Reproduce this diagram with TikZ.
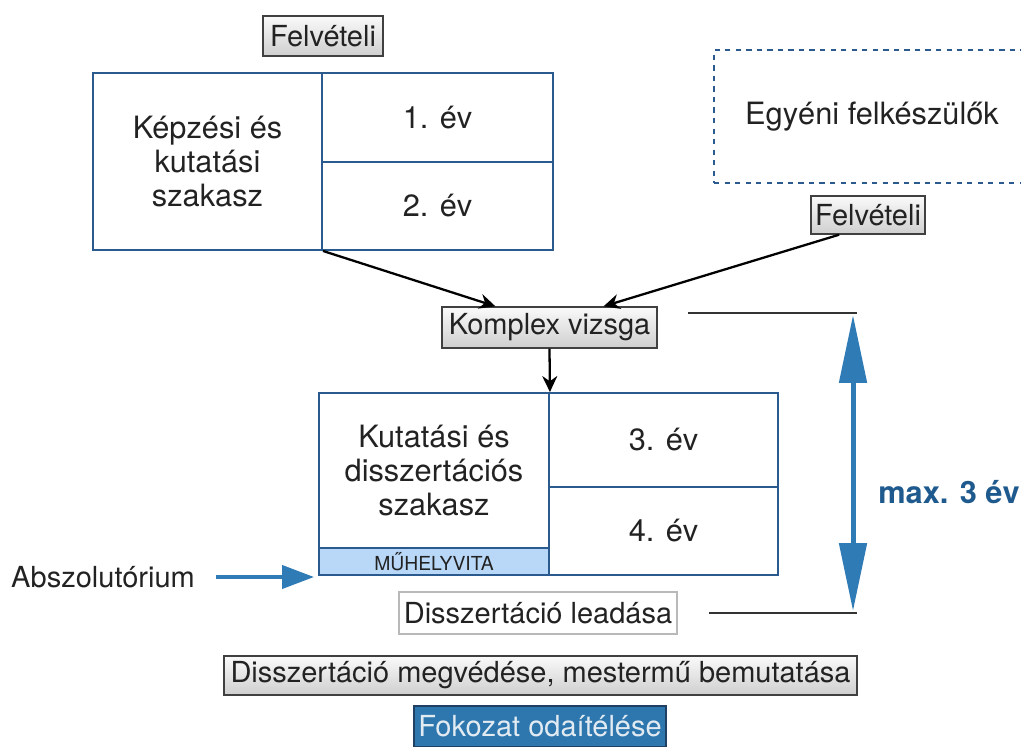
\documentclass[tikz,border=0pt]{standalone}
\usepackage{fontspec}
\setmainfont{TeX Gyre Heros}
\usetikzlibrary{arrows.meta,shadows,calc}
\definecolor{boxblue}{HTML}{2B5B8E}
\definecolor{arrowblue}{HTML}{2F7BB5}
\definecolor{maxblue}{HTML}{1F5A8E}
\definecolor{muhelyfill}{HTML}{B9D8F8}
\definecolor{fokozatfill}{HTML}{2D77AE}
\definecolor{fokozattext}{HTML}{E2EAF2}
\definecolor{textgray}{HTML}{222222}
\tikzset{
  cell/.style={draw=boxblue, line width=1.1pt, rectangle, inner sep=0pt, align=center, text=textgray, font=\fontsize{17.5}{19.5}\selectfont},
  button/.style={draw=gray!50!black, line width=0.8pt, rectangle, inner sep=0pt, text=textgray, top color=gray!4, bottom color=gray!38, drop shadow={opacity=0.3, shadow xshift=0.8pt, shadow yshift=-0.8pt}, font=\fontsize{16.5}{18}\selectfont},
  plainbox/.style={draw=gray!55, line width=1pt, rectangle, inner sep=0pt, fill=white, text=textgray, font=\fontsize{16.5}{18}\selectfont},
  blackarrow/.style={-{Stealth[length=0.32cm, width=0.3cm]}, line width=1.3pt, black},
  bluearrow/.style={-{Triangle[length=0.64cm, width=0.46cm]}, line width=0.08cm, arrowblue},
  spanarrow/.style={{Triangle[length=1.36cm, width=0.54cm]}-{Triangle[length=1.36cm, width=0.54cm]}, line width=0.1cm, arrowblue},
  guideline/.style={line width=0.6pt, black!80}
}

\begin{document}
\begin{tikzpicture}[x=0.02cm, y=-0.02cm]%
\useasboundingbox (0,0) rectangle (1021,747);%
\node[button, minimum width=2.4cm, minimum height=0.8cm] (felv1) at (323, 36) {Felvételi};%
\node[cell, minimum width=4.58cm, minimum height=3.54cm] (kepzes) at (207.5, 161.5) {Képzési és\\kutatási\\szakasz};%
\node[cell, minimum width=4.62cm, minimum height=1.78cm] (ev1) at (437.5, 117.5) {1. év};%
\node[cell, minimum width=4.62cm, minimum height=1.76cm] (ev2) at (437.5, 206) {2. év};%
\node[cell, dashed, minimum width=6.32cm, minimum height=2.66cm] (egyeni) at (872, 116.5) {Egyéni felkészülők};%
\node[button, minimum width=2.28cm, minimum height=0.76cm] (felv2) at (868, 215) {Felvételi};%
\node[button, minimum width=4.3cm, minimum height=0.82cm] (komplex) at (549.5, 327.5) {Komplex vizsga};%
\node[cell, minimum width=4.6cm, minimum height=3.1cm] (kutatas) at (434, 470.5) {Kutatási és\\disszertációs\\szakasz};%
\node[cell, fill=muhelyfill, minimum width=4.6cm, minimum height=0.54cm, font=\fontsize{11}{12}\selectfont] (muhely) at (434, 561.5) {MŰHELYVITA};%
\node[cell, minimum width=4.58cm, minimum height=1.88cm] (ev3) at (663.5, 440) {3. év};%
\node[cell, minimum width=4.58cm, minimum height=1.76cm] (ev4) at (663.5, 531) {4. év};%
\node[text=textgray, font=\fontsize{16.5}{18}\selectfont] (abszol) at (103, 577) {Abszolutórium};%
\node[plainbox, minimum width=5.56cm, minimum height=0.84cm] (leadasa) at (538, 613) {Disszertáció leadása};%
\node[button, minimum width=12.66cm, minimum height=0.78cm] (megvedes) at (540.5, 675.5) {Disszertáció megvédése, mestermű bemutatása};%
\node[draw=boxblue!70!black, line width=0.8pt, fill=fokozatfill, text=fokozattext, inner sep=0pt, minimum width=5.04cm, minimum height=0.82cm, font=\fontsize{16.5}{18}\selectfont] (fokozat) at (540, 726.5) {Fokozat odaítélése};%
\node[text=maxblue, font=\fontsize{17.5}{19}\selectfont\bfseries] (max) at (949, 492) {max. 3 év};%
\coordinate (vonal1a) at (688, 313);%
\coordinate (vonal1b) at (857, 313);%
\coordinate (vonal2a) at (709, 613);%
\coordinate (vonal2b) at (857, 613);%
\draw[blackarrow] (kepzes.south east) -- ($(komplex.north)!0.5!(komplex.north west)$);%
\draw[blackarrow] ($(felv2.south west)!0.25!(felv2.south east)$) -- ($(komplex.north)!0.5!(komplex.north east)$);%
\draw[blackarrow] (komplex.south) -- (kutatas.north east);%
\draw[bluearrow] ([xshift=0.3cm]abszol.east) -- ([xshift=-0.08cm]abszol.east -| muhely.west);%
\draw[guideline] (vonal1a) -- (vonal1b);%
\draw[guideline] (vonal2a) -- (vonal2b);%
\draw[spanarrow] ([xshift=-0.08cm, yshift=-0.04cm]vonal1b) -- ([xshift=-0.08cm, yshift=0.04cm]vonal2b);%
\end{tikzpicture}
\end{document}
